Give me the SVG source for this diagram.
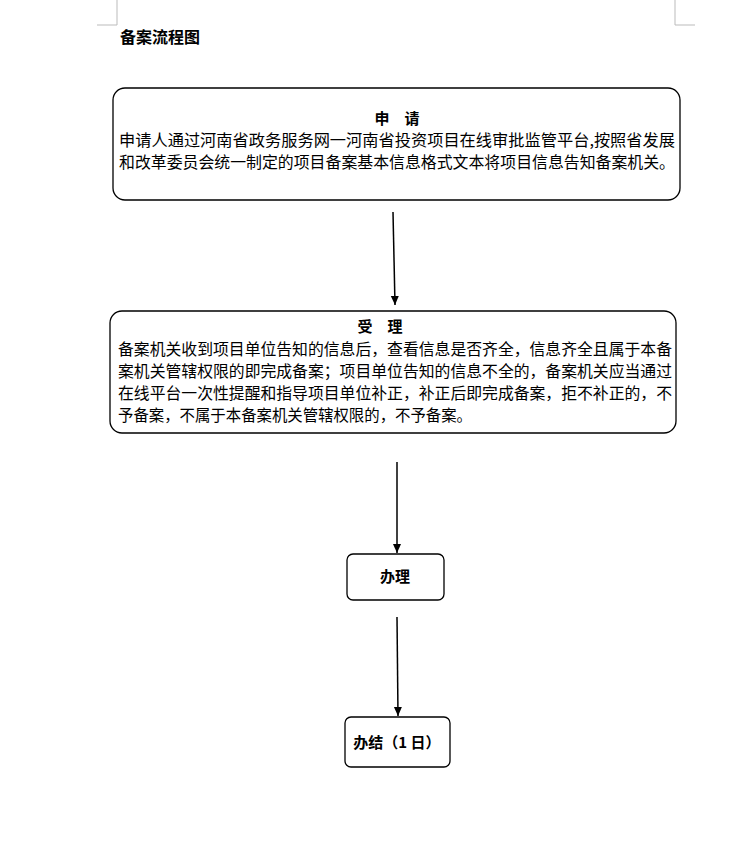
<svg xmlns="http://www.w3.org/2000/svg" width="742" height="845" viewBox="0 0 742 845">
<style>
.b{fill:#fff;stroke:#000;stroke-width:1.3}
.t{font-family:"Noto Sans CJK SC","Liberation Sans",sans-serif;font-size:16px;fill:#000}
.h{font-family:"Noto Sans CJK SC","Liberation Sans",sans-serif;font-size:15px;font-weight:bold;fill:#000}
.c{stroke:#000;stroke-width:1.5;fill:none;marker-end:url(#a)}
.m{stroke:#bbb;stroke-width:1;fill:none}
</style>
<defs><marker id="a" markerWidth="10" markerHeight="10" refX="9" refY="5" orient="auto" markerUnits="userSpaceOnUse"><path d="M0,1 L9,5 L0,9 Z" fill="#000"/></marker></defs>
<rect width="742" height="845" fill="#fff"/>
<path class="m" d="M117,0 V25 H97 M675,0 V25 H695"/>
<text class="h" x="120" y="43" style="font-size:16px">备案流程图</text>
<g id="n1"><rect class="b" x="113" y="88" width="567" height="112" rx="12"/>
<text class="h" x="397" y="124" text-anchor="middle">申　请</text>
<text class="t" x="119" y="146" textLength="556" lengthAdjust="spacingAndGlyphs">申请人通过河南省政务服务网一河南省投资项目在线审批监管平台,按照省发展</text>
<text class="t" x="119" y="168" textLength="556" lengthAdjust="spacingAndGlyphs">和改革委员会统一制定的项目备案基本信息格式文本将项目信息告知备案机关。</text></g>
<g id="n2"><rect class="b" x="110" y="311" width="566" height="122" rx="12"/>
<text class="h" x="380" y="332" text-anchor="middle">受　理</text>
<text class="t" x="118" y="355" textLength="554" lengthAdjust="spacingAndGlyphs">备案机关收到项目单位告知的信息后，查看信息是否齐全，信息齐全且属于本备</text>
<text class="t" x="118" y="377" textLength="554" lengthAdjust="spacingAndGlyphs">案机关管辖权限的即完成备案；项目单位告知的信息不全的，备案机关应当通过</text>
<text class="t" x="118" y="399" textLength="554" lengthAdjust="spacingAndGlyphs">在线平台一次性提醒和指导项目单位补正，补正后即完成备案，拒不补正的，不</text>
<text class="t" x="118" y="421" textLength="354" lengthAdjust="spacingAndGlyphs">予备案，不属于本备案机关管辖权限的，不予备案。</text></g>
<g id="n3"><rect class="b" x="347" y="554" width="97" height="46" rx="6"/>
<text class="h" x="395" y="582" text-anchor="middle">办理</text></g>
<g id="n4"><rect class="b" x="345" y="717" width="105" height="50" rx="6"/>
<text class="h" x="397" y="748" text-anchor="middle">办结（1 日）</text></g>
<g id="connectors">
<path class="c" d="M393,212 L395,305"/>
<path class="c" d="M397,462 L397,553"/>
<path class="c" d="M397,617 L398,716"/>
</g>
</svg>
